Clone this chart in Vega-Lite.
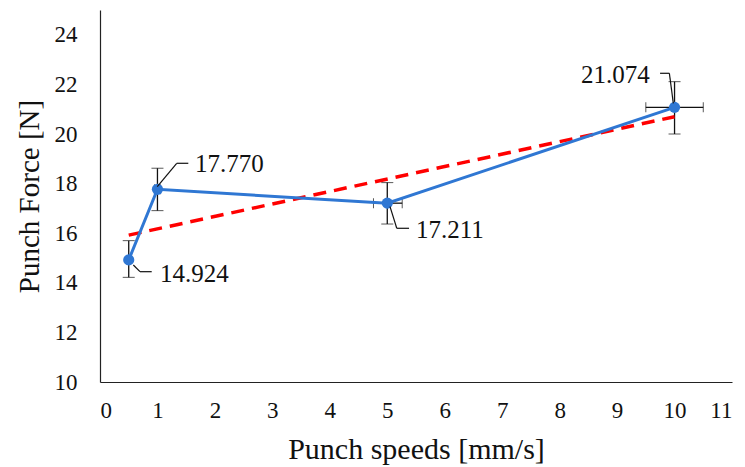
{
  "$schema": "https://vega.github.io/schema/vega-lite/v6.json",
  "autosize": "none",
  "width": 632,
  "height": 372,
  "padding": {"left": 100, "top": 10, "right": 13, "bottom": 85},
  "background": "white",
  "config": {
    "view": {"stroke": null},
    "font": "Times New Roman",
    "axis": {"grid": false, "ticks": false, "domainColor": "#222", "domainWidth": 1.2, "labelFont": "Times New Roman", "titleFont": "Times New Roman", "labelColor": "#111", "titleColor": "#111", "titleFontWeight": "normal", "labelFontSize": 23}
  },
  "datasets": {
    "pts": [
      {"speed": 0.5, "force": 14.924, "flo": 14.22, "fhi": 15.70, "slo": 0.475, "shi": 0.525},
      {"speed": 1, "force": 17.770, "flo": 16.91, "fhi": 18.62, "slo": 0.95, "shi": 1.05},
      {"speed": 5, "force": 17.211, "flo": 16.37, "fhi": 18.04, "slo": 4.76, "shi": 5.26},
      {"speed": 10, "force": 21.074, "flo": 20.00, "fhi": 22.11, "slo": 9.5, "shi": 10.5}
    ],
    "leaders": [
      {"x1": 0.580, "y1": 14.718, "x2": 0.696, "y2": 14.448},
      {"x1": 0.696, "y1": 14.448, "x2": 0.900, "y2": 14.448},
      {"x1": 0.997, "y1": 17.875, "x2": 1.335, "y2": 18.819},
      {"x1": 1.335, "y1": 18.819, "x2": 1.537, "y2": 18.819},
      {"x1": 5.048, "y1": 17.069, "x2": 5.165, "y2": 16.198},
      {"x1": 5.165, "y1": 16.198, "x2": 5.379, "y2": 16.198},
      {"x1": 9.748, "y1": 22.448, "x2": 9.910, "y2": 22.448},
      {"x1": 9.910, "y1": 22.448, "x2": 9.979, "y2": 21.238}
    ],
    "labels": [
      {"lx": 1.044, "ly": 14.355, "txt": "14.924"},
      {"lx": 1.654, "ly": 18.79, "txt": "17.770"},
      {"lx": 5.50, "ly": 16.13, "txt": "17.211"},
      {"lx": 8.373, "ly": 22.38, "txt": "21.074"}
    ]
  },
  "layer": [
    {
      "data": {"name": "pts"},
      "mark": {"type": "errorbar", "ticks": {"size": 12, "color": "#111", "strokeWidth": 1.3}, "rule": {"color": "#111", "strokeWidth": 1.3}},
      "encoding": {
        "x": {"field": "speed", "type": "quantitative", "title": "Punch speeds [mm/s]", "scale": {"domain": [0, 11], "nice": false}, "axis": {"values": [0,1,2,3,4,5,6,7,8,9,10,11], "format": "d", "labelPadding": 17, "titlePadding": 12, "titleFontSize": 30}},
        "y": {"field": "flo", "type": "quantitative", "title": "Punch Force [N]", "scale": {"domain": [10, 25], "nice": false, "zero": false}, "axis": {"values": [10,12,14,16,18,20,22,24], "format": "d", "labelPadding": 23, "titlePadding": 10, "titleFontSize": 29}},
        "y2": {"field": "fhi"}
      }
    },
    {
      "data": {"name": "pts"},
      "mark": {"type": "errorbar", "ticks": {"size": 10, "color": "#111", "strokeWidth": 1.3}, "rule": {"color": "#111", "strokeWidth": 1.3}},
      "encoding": {
        "y": {"field": "force", "type": "quantitative", "title": "Punch Force [N]"},
        "x": {"field": "slo", "type": "quantitative", "title": "Punch speeds [mm/s]"},
        "x2": {"field": "shi"}
      }
    },
    {
      "data": {"name": "pts"},
      "transform": [{"regression": "force", "on": "speed"}],
      "mark": {"type": "line", "color": "#FF0000", "strokeWidth": 3.5, "strokeDash": [13, 8]},
      "encoding": {
        "x": {"field": "speed", "type": "quantitative", "title": "Punch speeds [mm/s]"},
        "y": {"field": "force", "type": "quantitative", "title": "Punch Force [N]"}
      }
    },
    {
      "data": {"name": "pts"},
      "mark": {"type": "line", "color": "#2F77D3", "strokeWidth": 3, "point": {"filled": true, "size": 125, "color": "#2F77D3", "opacity": 1}},
      "encoding": {
        "x": {"field": "speed", "type": "quantitative", "title": "Punch speeds [mm/s]"},
        "y": {"field": "force", "type": "quantitative", "title": "Punch Force [N]"}
      }
    },
    {
      "data": {"name": "leaders"},
      "mark": {"type": "rule", "color": "#111", "strokeWidth": 1.2},
      "encoding": {
        "x": {"field": "x1", "type": "quantitative", "title": "Punch speeds [mm/s]"},
        "y": {"field": "y1", "type": "quantitative", "title": "Punch Force [N]"},
        "x2": {"field": "x2"},
        "y2": {"field": "y2"}
      }
    },
    {
      "data": {"name": "labels"},
      "mark": {"type": "text", "align": "left", "baseline": "middle", "fontSize": 25, "font": "Times New Roman", "color": "#111"},
      "encoding": {
        "x": {"field": "lx", "type": "quantitative", "title": "Punch speeds [mm/s]"},
        "y": {"field": "ly", "type": "quantitative", "title": "Punch Force [N]"},
        "text": {"field": "txt"}
      }
    }
  ]
}
